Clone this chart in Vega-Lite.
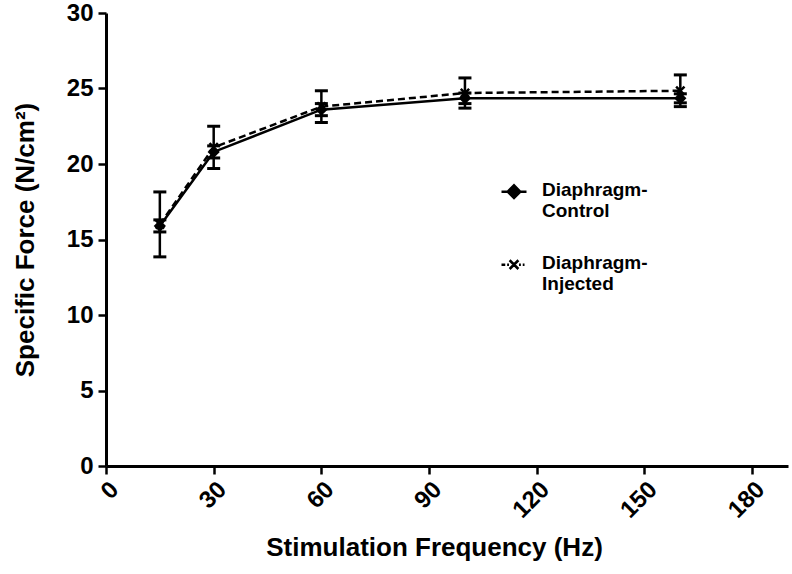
{
  "$schema": "https://vega.github.io/schema/vega-lite/v6.json",
  "width": 682,
  "height": 453,
  "autosize": {"type": "none"},
  "padding": {"left": 106, "top": 13, "right": 4, "bottom": 108},
  "background": "white",
  "config": {
    "font": "Liberation Sans",
    "view": {"stroke": null},
    "axis": {
      "domainColor": "black",
      "domainWidth": 3,
      "tickColor": "black",
      "tickWidth": 2.5,
      "tickSize": 8,
      "labelColor": "black",
      "labelFont": "Liberation Sans",
      "labelFontWeight": "bold",
      "labelFontSize": 24,
      "titleFont": "Liberation Sans",
      "titleFontWeight": "bold",
      "titleFontSize": 26,
      "titleColor": "black",
      "grid": false
    }
  },
  "data": {
    "values": [
      {"freq": 15, "series": "Diaphragm-Control", "mean": 15.9, "lo": 15.5, "hi": 16.3},
      {"freq": 30, "series": "Diaphragm-Control", "mean": 20.8, "lo": 20.4, "hi": 21.2},
      {"freq": 60, "series": "Diaphragm-Control", "mean": 23.6, "lo": 23.2, "hi": 24.0},
      {"freq": 100, "series": "Diaphragm-Control", "mean": 24.35, "lo": 24.0, "hi": 24.7},
      {"freq": 160, "series": "Diaphragm-Control", "mean": 24.35, "lo": 24.05, "hi": 24.65},
      {"freq": 15, "series": "Diaphragm-Injected", "mean": 16.0, "lo": 13.85, "hi": 18.15},
      {"freq": 30, "series": "Diaphragm-Injected", "mean": 21.1, "lo": 19.7, "hi": 22.5},
      {"freq": 60, "series": "Diaphragm-Injected", "mean": 23.8, "lo": 22.75, "hi": 24.85},
      {"freq": 100, "series": "Diaphragm-Injected", "mean": 24.7, "lo": 23.7, "hi": 25.7},
      {"freq": 160, "series": "Diaphragm-Injected", "mean": 24.85, "lo": 23.8, "hi": 25.9}
    ]
  },
  "encoding": {
    "x": {
      "field": "freq",
      "type": "quantitative",
      "scale": {"domain": [0, 190], "nice": false},
      "axis": {
        "values": [0, 30, 60, 90, 120, 150, 180],
        "labelAngle": -45,
        "labelPadding": 3,
        "title": "Stimulation Frequency (Hz)",
        "titlePadding": 12,
        "titleX": 328
      }
    }
  },
  "layer": [
    {
      "mark": {"type": "rule", "color": "black", "strokeWidth": 2.5},
      "encoding": {
        "y": {
          "field": "lo",
          "type": "quantitative",
          "scale": {"domain": [0, 30], "nice": false},
          "axis": {
            "values": [0, 5, 10, 15, 20, 25, 30],
            "title": "Specific Force (N/cm²)",
            "titlePadding": 28,
            "labelPadding": 5
          }
        },
        "y2": {"field": "hi"}
      }
    },
    {
      "mark": {"type": "tick", "color": "black", "orient": "horizontal", "size": 13, "thickness": 3, "opacity": 1},
      "encoding": {"y": {"field": "lo", "type": "quantitative"}}
    },
    {
      "mark": {"type": "tick", "color": "black", "orient": "horizontal", "size": 13, "thickness": 3, "opacity": 1},
      "encoding": {"y": {"field": "hi", "type": "quantitative"}}
    },
    {
      "transform": [{"filter": "datum.series == 'Diaphragm-Control'"}],
      "mark": {"type": "line", "color": "black", "strokeWidth": 2.5},
      "encoding": {"y": {"field": "mean", "type": "quantitative"}}
    },
    {
      "transform": [{"filter": "datum.series == 'Diaphragm-Injected'"}],
      "mark": {"type": "line", "color": "black", "strokeWidth": 2.5, "strokeDash": [7, 4]},
      "encoding": {"y": {"field": "mean", "type": "quantitative"}}
    },
    {
      "transform": [{"filter": "datum.series == 'Diaphragm-Control'"}],
      "mark": {"type": "point", "shape": "diamond", "filled": true, "color": "black", "size": 150, "opacity": 1},
      "encoding": {"y": {"field": "mean", "type": "quantitative"}}
    },
    {
      "transform": [{"filter": "datum.series == 'Diaphragm-Injected'"}],
      "mark": {"type": "point", "shape": "M-0.8,-0.8L0.8,0.8M-0.8,0.8L0.8,-0.8", "filled": false, "color": "black", "strokeWidth": 2.5, "size": 110, "opacity": 1},
      "encoding": {"y": {"field": "mean", "type": "quantitative"}}
    },
    {
      "transform": [{"filter": "datum.freq < 0"}],
      "mark": {"type": "point", "filled": false, "color": "black", "strokeWidth": 2.5, "opacity": 1},
      "encoding": {
        "y": {"field": "mean", "type": "quantitative"},
        "shape": {
          "field": "series",
          "type": "nominal",
          "scale": {
            "domain": ["Diaphragm-Control", "Diaphragm-Injected"],
            "range": [
              "M-1,0.85H-0.45M0.45,0.85H1M-0.5,0.85L0,0.35L0.5,0.85L0,1.35ZM-0.3,0.85L0,0.55L0.3,0.85L0,1.15ZM-0.1,0.85L0,0.75L0.1,0.85L0,0.95Z",
              "M-1,0.85H-0.7M-0.55,0.85H-0.4M0.4,0.85H0.55M0.7,0.85H0.84M-0.35,0.5L0.35,1.2M-0.35,1.2L0.35,0.5"
            ]
          },
          "legend": {
            "title": null,
            "orient": "none",
            "legendX": 394,
            "legendY": 154,
            "symbolSize": 625,
            "symbolStrokeColor": "black",
            "symbolStrokeWidth": 2.5,
            "symbolOpacity": 1,
            "labelFont": "Liberation Sans",
            "labelFontWeight": "bold",
            "labelFontSize": 19,
            "labelColor": "black",
            "labelLimit": 300,
            "labelOffset": 14,
            "rowPadding": 19,
            "labelBaseline": "top",
            "labelExpr": "datum.label == 'Diaphragm-Control' ? ['Diaphragm-', 'Control'] : ['Diaphragm-', 'Injected']"
          }
        }
      }
    }
  ]
}
